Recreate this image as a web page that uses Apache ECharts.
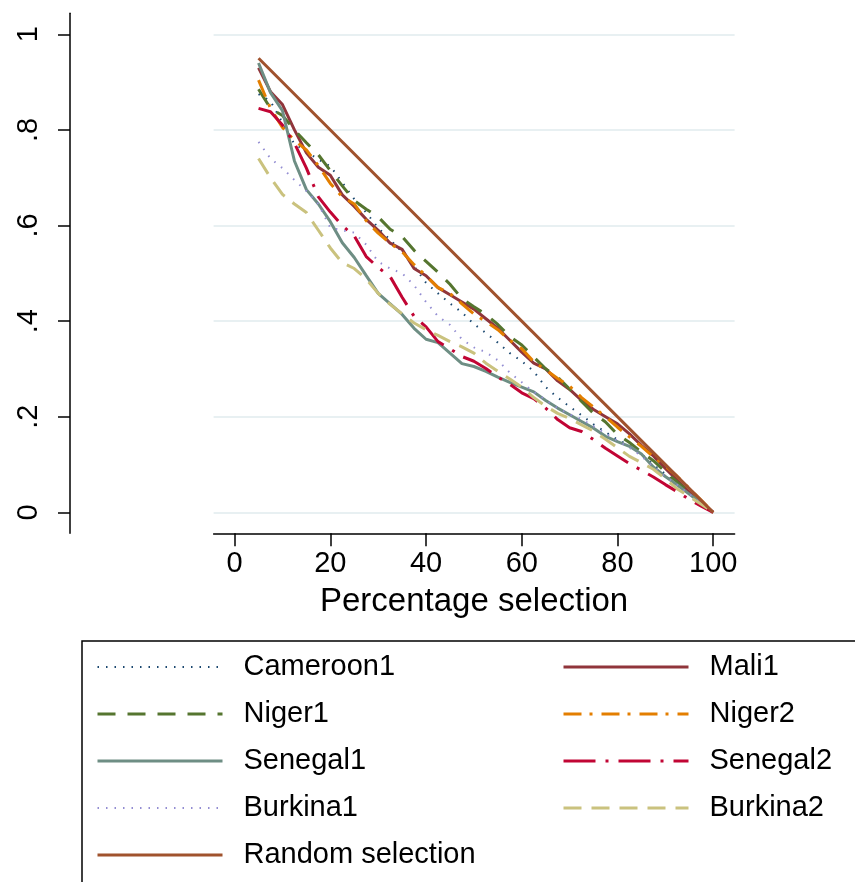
<!DOCTYPE html>
<html><head><meta charset="utf-8">
<script src="https://cdn.jsdelivr.net/npm/echarts@6/dist/echarts.min.js"></script>
<style>html,body{margin:0;padding:0;background:#fff}#c{width:855px;height:882px}</style>
</head><body><div id="c"></div>
<script>
// Percentage selection (shared x positions)
const X = [5,7.5,10,12.5,15,17.5,20,22.5,25,27.5,30,32.5,35,37.5,40,42.5,45,47.5,50,52.5,55,57.5,60,62.5,65,67.5,70,72.5,75,77.5,80,82.5,85,87.5,90,92.5,95,97.5,100];
const cameroon1 = [0.875,0.86,0.815,0.77,0.755,0.738,0.724,0.69,0.655,0.627,0.595,0.57,0.545,0.515,0.48,0.458,0.437,0.418,0.394,0.375,0.355,0.333,0.316,0.295,0.262,0.24,0.221,0.203,0.184,0.168,0.152,0.14,0.122,0.1,0.08,0.06,0.04,0.02,0];
const mali1 = [0.93,0.88,0.853,0.80,0.752,0.722,0.705,0.664,0.64,0.613,0.59,0.563,0.55,0.51,0.495,0.47,0.455,0.44,0.425,0.405,0.385,0.36,0.335,0.312,0.3,0.275,0.257,0.234,0.215,0.2,0.185,0.164,0.14,0.118,0.092,0.067,0.042,0.02,0];
const niger1 = [0.885,0.845,0.83,0.80,0.773,0.748,0.715,0.683,0.652,0.634,0.618,0.592,0.577,0.548,0.525,0.502,0.477,0.447,0.43,0.414,0.393,0.368,0.35,0.325,0.3,0.283,0.258,0.232,0.207,0.189,0.163,0.146,0.126,0.108,0.085,0.063,0.042,0.02,0];
const niger2 = [0.904,0.845,0.805,0.778,0.758,0.725,0.688,0.66,0.645,0.61,0.584,0.563,0.545,0.518,0.495,0.47,0.458,0.436,0.415,0.399,0.382,0.36,0.342,0.315,0.298,0.28,0.264,0.24,0.22,0.2,0.178,0.158,0.138,0.116,0.097,0.075,0.05,0.025,0];
const senegal1 = [0.94,0.878,0.84,0.735,0.675,0.645,0.608,0.564,0.533,0.495,0.458,0.436,0.414,0.385,0.362,0.355,0.333,0.311,0.305,0.295,0.283,0.272,0.262,0.252,0.234,0.218,0.204,0.19,0.176,0.159,0.148,0.138,0.122,0.095,0.075,0.057,0.038,0.019,0];
const senegal2 = [0.845,0.838,0.81,0.772,0.72,0.66,0.628,0.6,0.578,0.535,0.512,0.493,0.45,0.41,0.388,0.357,0.342,0.326,0.316,0.301,0.283,0.268,0.25,0.238,0.218,0.194,0.177,0.169,0.152,0.134,0.118,0.102,0.088,0.074,0.058,0.043,0.027,0.013,0];
const burkina1 = [0.775,0.74,0.72,0.695,0.672,0.645,0.595,0.59,0.585,0.56,0.524,0.51,0.5,0.475,0.44,0.41,0.392,0.362,0.345,0.335,0.318,0.292,0.272,0.252,0.235,0.218,0.205,0.195,0.18,0.165,0.15,0.135,0.118,0.095,0.075,0.057,0.038,0.019,0];
const burkina2 = [0.74,0.7,0.665,0.645,0.627,0.59,0.553,0.522,0.51,0.488,0.458,0.435,0.415,0.396,0.382,0.37,0.357,0.346,0.333,0.312,0.295,0.279,0.262,0.24,0.222,0.207,0.196,0.183,0.17,0.153,0.135,0.117,0.104,0.09,0.07,0.049,0.033,0.017,0];
const randomX = [5,100];
const randomY = [0.95,0];
const xTicks = [0,20,40,60,80,100];
const yTicks = [0,0.2,0.4,0.6,0.8,1];
const yTickLabels = ['0','.2','.4','.6','.8','1'];
const legendLeft = ['Cameroon1','Niger1','Senegal1','Burkina1','Random selection'];
const legendRight = ['Mali1','Niger2','Senegal2','Burkina2'];

const FONT = 'Liberation Sans, Arial, sans-serif';
const zip = (xs, ys) => xs.map((x, i) => [x, ys[i]]);
const widths = {};
function line(name, xs, ys, color, width, type, z) {
  widths[name] = width;
  return {
    name, type: 'line', data: zip(xs, ys), symbol: 'none', showSymbol: false,
    lineStyle: { color, width, type, cap: 'butt' }, itemStyle: { color },
    z: z || 2, animation: false
  };
}
const series = [
  line('Cameroon1', X, cameroon1, '#1a476f', 2, [1.5, 7]),
  line('Mali1', X, mali1, '#90353b', 3, 'solid'),
  line('Niger1', X, niger1, '#55752f', 3, [18, 12]),
  line('Niger2', X, niger2, '#e37e00', 3, [18, 8, 3, 9]),
  line('Senegal1', X, senegal1, '#6e8e84', 3, 'solid'),
  line('Senegal2', X, senegal2, '#c10534', 3, [32, 10, 3, 10]),
  line('Burkina1', X, burkina1, '#938dd2', 2, [1.5, 7]),
  line('Burkina2', X, burkina2, '#cac27e', 3, [18, 10]),
  line('Random selection', randomX, randomY, '#a0522d', 3, 'solid', 3)
];
const legendText = { fontSize: 29, lineHeight: 30, color: '#000', fontFamily: FONT, padding: [0, 0, 0, 16] };
const legendBase = {
  orient: 'vertical', top: 652, padding: 0, itemWidth: 125, itemHeight: 14, itemGap: 17,
  textStyle: legendText, selectedMode: false,
  itemStyle: { opacity: 0, color: 'rgba(0,0,0,0)', borderWidth: 0 }
};
const legendItems = names => names.map(n => ({ name: n, lineStyle: { width: widths[n] } }));
const chart = echarts.init(document.getElementById('c'), null, { renderer: 'canvas' });
chart.setOption({
  animation: false,
  backgroundColor: '#fff',
  textStyle: { fontFamily: FONT },
  grid: { left: 213.6, top: 13.3, width: 521, height: 520, containLabel: false },
  xAxis: {
    type: 'value', min: -4.39, max: 104.47,
    axisLine: { show: true, onZero: false, lineStyle: { color: '#000', width: 1.5 } },
    axisTick: { show: true, customValues: xTicks, length: 13, lineStyle: { color: '#000', width: 1.5 } },
    axisLabel: { show: true, customValues: xTicks, fontSize: 29, margin: 16, color: '#000', fontFamily: FONT },
    splitLine: { show: false },
    name: 'Percentage selection', nameLocation: 'middle', nameGap: 52,
    nameTextStyle: { fontSize: 33, color: '#000', fontFamily: FONT }
  },
  yAxis: {
    type: 'value', min: -0.0439, max: 1.0439, offset: 143.6,
    axisLine: { show: true, onZero: false, lineStyle: { color: '#000', width: 1.5 } },
    axisTick: { show: true, customValues: yTicks, length: 12, lineStyle: { color: '#000', width: 1.5 } },
    axisLabel: {
      show: true, customValues: yTicks, rotate: 90, fontSize: 29, margin: 27, color: '#000', fontFamily: FONT,
      formatter: v => { const i = yTicks.findIndex(t => Math.abs(t - v) < 1e-6); return i >= 0 ? yTickLabels[i] : ''; }
    },
    splitLine: { show: true, lineStyle: { color: '#e8f0f2', width: 2 } }
  },
  legend: [
    Object.assign({ data: legendItems(legendLeft), left: 96 }, legendBase),
    Object.assign({ data: legendItems(legendRight), left: 562 }, legendBase)
  ],
  graphic: [
    { type: 'rect', shape: { x: 82, y: 641, width: 820, height: 320 }, style: { fill: 'none', stroke: '#000', lineWidth: 1.5 }, z: 0, silent: true }
  ],
  series
});
</script></body></html>
